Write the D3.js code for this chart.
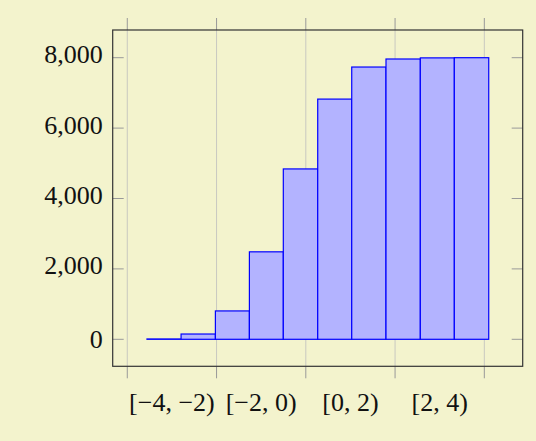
<!DOCTYPE html>
<html>
<head>
<meta charset="utf-8">
<script src="https://cdn.jsdelivr.net/npm/d3@7"></script>
<style>
  html, body { margin: 0; padding: 0; background: #f3f3cd; }
  text { font-family: "Liberation Serif", serif; font-size: 26px; fill: #111; }
</style>
</head>
<body>
<div id="chart"></div>
<script>
// bin edges and cumulative counts
var binEdges = [-3.559, -2.795, -2.026, -1.264, -0.504, 0.267, 1.029, 1.797, 2.566, 3.328, 4.099];
var counts = [10, 150, 806, 2485, 4840, 6824, 7735, 7963, 7995, 8000];
var xTicks = [-4, -2, 0, 2, 4];
var xTickLabels = ["[\u22124, \u22122)", "[\u22122, 0)", "[0, 2)", "[2, 4)"];
var yTicks = [0, 2000, 4000, 6000, 8000];

var width = 536;
var height = 441;
// plot frame (note: "top" is reserved on window, so use plot* names)
var plotLeft = 112.7, plotRight = 522.7, plotTop = 30, plotBottom = 366.3;

var svg = d3.select("#chart").append("svg").attr("width", width).attr("height", height);
svg.append("rect").attr("width", width).attr("height", height).attr("fill", "#f3f3cd");

var x = d3.scaleLinear().domain([-4.327, 4.86]).range([plotLeft, plotRight]);
var y = d3.scaleLinear().domain([-767, 8787]).range([plotBottom, plotTop]);

var bars = binEdges.slice(0, -1).map(function(e, i) {
  return { x0: e, x1: binEdges[i + 1], v: counts[i] };
});

// grid lines (vertical only)
svg.append("g").selectAll("line")
  .data(xTicks).enter().append("line")
  .attr("x1", d => x(d)).attr("x2", d => x(d))
  .attr("y1", plotTop).attr("y2", plotBottom)
  .attr("stroke", "#c8c8c0").attr("stroke-width", 1);

// bars
svg.append("g").selectAll("rect")
  .data(bars).enter().append("rect")
  .attr("x", d => x(d.x0))
  .attr("width", d => x(d.x1) - x(d.x0))
  .attr("y", d => y(d.v))
  .attr("height", d => y(0) - y(d.v))
  .attr("fill", "#b3b3ff")
  .attr("stroke", "#0000ff")
  .attr("stroke-width", 1.2);

// x ticks outside frame, top and bottom
var tickLen = 12;
svg.append("g").selectAll("line")
  .data(xTicks).enter().append("line")
  .attr("x1", d => x(d)).attr("x2", d => x(d))
  .attr("y1", plotBottom).attr("y2", plotBottom + tickLen)
  .attr("stroke", "#999").attr("stroke-width", 1);
svg.append("g").selectAll("line")
  .data(xTicks).enter().append("line")
  .attr("x1", d => x(d)).attr("x2", d => x(d))
  .attr("y1", plotTop - tickLen).attr("y2", plotTop)
  .attr("stroke", "#999").attr("stroke-width", 1);

// y ticks inside frame, left and right
svg.append("g").selectAll("line")
  .data(yTicks).enter().append("line")
  .attr("x1", plotLeft).attr("x2", plotLeft + 11)
  .attr("y1", d => y(d)).attr("y2", d => y(d))
  .attr("stroke", "#999").attr("stroke-width", 1);
svg.append("g").selectAll("line")
  .data(yTicks).enter().append("line")
  .attr("x1", plotRight - 11).attr("x2", plotRight)
  .attr("y1", d => y(d)).attr("y2", d => y(d))
  .attr("stroke", "#999").attr("stroke-width", 1);

// frame
svg.append("rect")
  .attr("x", plotLeft).attr("y", plotTop)
  .attr("width", plotRight - plotLeft).attr("height", plotBottom - plotTop)
  .attr("fill", "none").attr("stroke", "#333").attr("stroke-width", 1.2);

// y labels
var fmt = d3.format(",");
svg.append("g").selectAll("text")
  .data(yTicks).enter().append("text")
  .attr("x", plotLeft - 10)
  .attr("y", d => y(d) + (d === 0 ? 8.5 : 5.5))
  .attr("text-anchor", "end")
  .text(d => fmt(d));

// x interval labels, centred between ticks
svg.append("g").selectAll("text")
  .data(xTickLabels).enter().append("text")
  .attr("x", (d, i) => (x(xTicks[i]) + x(xTicks[i + 1])) / 2)
  .attr("y", 411)
  .attr("text-anchor", "middle")
  .text(d => d);
</script>
</body>
</html>
